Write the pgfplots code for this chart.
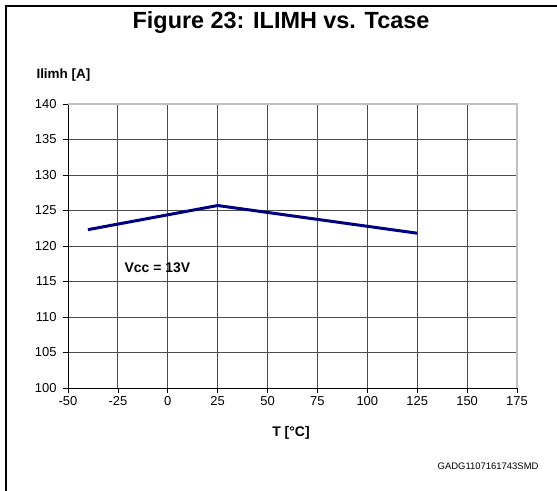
\documentclass[border=0pt]{standalone}
\usepackage{pgfplots}
\pgfplotsset{compat=1.18}
\usepackage{fontspec}
\setmainfont{Liberation Sans}
\definecolor{navy}{RGB}{0,0,128}
\definecolor{lightborder}{RGB}{192,192,192}
\begin{document}
\begin{tikzpicture}
\path[use as bounding box] (0bp,0bp) rectangle (557bp,491bp);
\draw[line width=2.2bp] (5bp,485bp) -- (557bp,485bp);
\draw[line width=2.2bp] (6bp,486bp) -- (6bp,0bp);
\node[font=\fontsize{23.5}{26}\selectfont\bfseries] at (281bp,468bp) {Figure 23: ILIMH vs. Tcase};
\node[font=\fontsize{13.5}{15}\selectfont\bfseries, anchor=west] at (33bp,416bp) {Ilimh [A]};
\node[font=\fontsize{14}{16}\selectfont\bfseries] at (291bp,58bp) {T [°C]};
\node[font=\fontsize{9.5}{11}\selectfont, anchor=east] at (542bp,25bp) {GADG1107161743SMD};
\begin{axis}[
  at={(68bp,103bp)}, anchor=south west,
  scale only axis, width=449bp, height=284bp,
  xmin=-50, xmax=175, ymin=100, ymax=140,
  xtick={-50,-25,...,175}, ytick={100,105,...,140},
  grid=major, grid style={line width=0.8bp, color=black!70},
  axis lines=left, axis line style={-, line width=0.9bp},
  tick align=outside, tick style={black, line width=0.6bp},
  major tick length=5bp,
  ticklabel style={font=\fontsize{13}{15}\selectfont},
  yticklabel style={xshift=-3bp},
  /pgf/number format/assume math mode=true,
  clip=false,
]
\addplot[navy, line width=3bp, line join=round] coordinates {
  (-40,122.3) (25,125.7) (125,121.8)
};
\draw[lightborder, line width=1.2bp] (rel axis cs:0,1) -- (rel axis cs:1,1) -- (rel axis cs:1,0);
\node[font=\fontsize{14}{16}\selectfont\bfseries] at (axis cs:-5.2,117) {Vcc = 13V};
\end{axis}
\end{tikzpicture}
\end{document}
